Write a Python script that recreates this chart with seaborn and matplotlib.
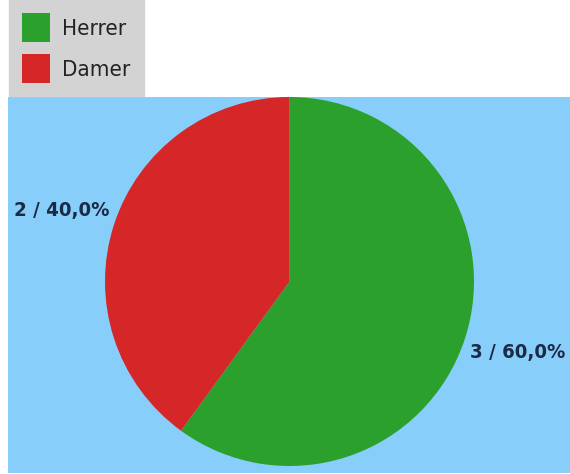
import matplotlib
matplotlib.use("Agg")
import numpy as np
import matplotlib.pyplot as plt
import seaborn as sns

categories = ["Herrer", "Damer"]
counts = [3, 2]
colors = ["#2ca02c", "#d62728"]

sns.set_theme(style="white")
plt.rcParams['font.family'] = ['DejaVu Sans']
plt.rcParams['font.stretch'] = 'condensed'

fig = plt.figure(figsize=(5.70, 4.74), dpi=100)
fig.patch.set_facecolor("white")

ax = fig.add_axes([8/570, 1/474, 562/570, 376/474])

total = sum(counts)
labels = [f"{c} / {c/total*100:.1f}%".replace(".", ",") for c in counts]

wedges, texts = ax.pie(counts, labels=labels, colors=colors, startangle=90,
                       counterclock=False, labeldistance=1.05, frame=True,
                       wedgeprops=dict(linewidth=0),
                       textprops=dict(color="#1c2b45", fontsize=14.6,
                                      fontstretch='condensed', fontweight='semibold'))
# nudge labels slightly clockwise around the pie, as in the reference
for w, t in zip(wedges, texts):
    ang = np.deg2rad((w.theta1 + w.theta2) / 2 - 3.5)
    t.set_position((1.05 * np.cos(ang), 1.05 * np.sin(ang)))

ax.set_facecolor("#87cefa")
ax.set_aspect("auto")
ax.set_xlim(-281.5/184.5, (562-281.5)/184.5)
ax.set_ylim(-191.5/184.5, 1.0)
for s in ax.spines.values():
    s.set_visible(False)
ax.set_xticks([]); ax.set_yticks([])

leg = fig.legend(wedges, categories, loc="upper left",
                 bbox_to_anchor=(9/570, 1.0), frameon=True, fancybox=False,
                 facecolor="#d3d3d3", edgecolor="#d3d3d3", framealpha=1,
                 prop=dict(size=16, stretch='condensed', weight='medium'),
                 handlelength=1.25, handleheight=1.6,
                 borderpad=0.6, labelspacing=0.55, handletextpad=0.55,
                 borderaxespad=0)
for t in leg.get_texts():
    t.set_color("#222222")

fig.savefig("out.png", dpi=100)
